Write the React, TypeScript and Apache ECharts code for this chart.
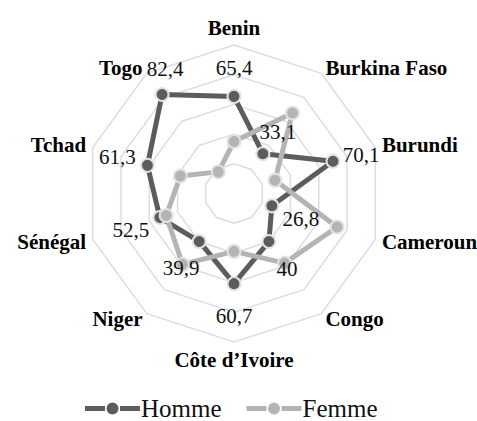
import React, { useEffect, useRef } from "react";
import * as echarts from "echarts";

const countries = ["Benin", "Burkina Faso", "Burundi", "Cameroun", "Congo", "Côte d’Ivoire", "Niger", "Sénégal", "Tchad", "Togo"];
const homme = [65.4, 33.1, 70.1, 26.8, 40, 60.7, 39.9, 52.5, 61.3, 82.4];
const femme = [35, 67, 29, 73, 58, 39, 59, 48, 38, 18];
const seriesNames = ["Homme", "Femme"];

// label offsets (style only) per country, in px relative to the Homme point
const labelOffsets: [number, number][] = [
  [0, -28], [15, -22], [28, -6], [29, 13], [18, 27],
  [0, 32], [-18, 27], [-29, 12], [-30, -8], [3, -26],
];

const DARK = "#5c5c5c";
const LIGHT = "#b4b4b4";
const RING = "#e2e2e2";
const FONT = "Liberation Serif";

const fmt = (v: number) => String(v).replace(".", ",");

export default function App() {
  const ref = useRef<HTMLDivElement>(null);
  useEffect(() => {
    if (!ref.current) return;
    const chart = echarts.init(ref.current, undefined, { renderer: "svg" });
    // ECharts lays out radar indicators counter-clockwise; reorder so they run clockwise
    const order = countries.map((_, i) => (i === 0 ? 0 : countries.length - i));
    const ind = order.map((i) => ({ name: countries[i], min: 0, max: 100 }));
    const h = order.map((i) => homme[i]);
    const f = order.map((i) => femme[i]);

    const labelSeries = countries.map((c, k) => ({
      type: "radar",
      name: "lbl" + k,
      z: 5,
      silent: true,
      symbol: "circle",
      symbolSize: 0,
      lineStyle: { width: 0, opacity: 0 },
      itemStyle: { opacity: 1, color: "transparent" },
      data: [
        {
          value: h,
          label: {
            show: true,
            position: labelOffsets[k],
            align: "center",
            verticalAlign: "middle",
            fontFamily: FONT,
            fontSize: 21,
            color: "#111",
            formatter: (p: any) => {
              const ok = p.dimensionIndex != null ? order[p.dimensionIndex] === k : p.value === homme[k];
              return ok ? fmt(homme[k]) : "";
            },
          },
        },
      ],
    }));

    const iconPath =
      "path://M0,5H20V10H0Z M35,5H55V10H35Z M21.5,7.5A6,6 0 1 1 33.5,7.5A6,6 0 1 1 21.5,7.5Z";

    chart.setOption({
      animation: false,
      legend: {
        data: seriesNames,
        left: 80,
        top: 391,
        itemGap: 25,
        itemWidth: 55,
        itemHeight: 12,
        icon: iconPath,
        itemStyle: { borderWidth: 0 },
        textStyle: { fontFamily: FONT, fontSize: 25, color: "#111", padding: [0, 0, 0, -4] },
      },
      radar: {
        center: [234, 193.5],
        radius: 148.5,
        startAngle: 90,
        splitNumber: 5,
        shape: "polygon",
        nameGap: 7,
        axisName: { color: "#000", fontFamily: FONT, fontSize: 21, fontWeight: "bold" },
        axisLine: { show: false },
        axisTick: { show: false },
        axisLabel: { show: false },
        splitArea: { show: false },
        splitLine: { lineStyle: { color: "#d8dde7", width: 1.5 } },
        indicator: ind,
      },
      series: [
        {
          type: "radar",
          name: seriesNames[0],
          z: 2,
          symbol: "circle",
          symbolSize: 13,
          lineStyle: { color: DARK, width: 5 },
          itemStyle: { color: DARK, borderColor: RING, borderWidth: 2 },
          data: [{ value: h, name: seriesNames[0] }],
        },
        {
          type: "radar",
          name: seriesNames[1],
          z: 3,
          symbol: "circle",
          symbolSize: 13,
          lineStyle: { color: LIGHT, width: 5 },
          itemStyle: { color: LIGHT, borderColor: RING, borderWidth: 2 },
          data: [{ value: f, name: seriesNames[1] }],
        },
        ...labelSeries,
      ],
    });
    return () => chart.dispose();
  }, []);
  return <div ref={ref} style={{ position: "absolute", left: 0, top: 0, width: 477, height: 421 }} />;
}
